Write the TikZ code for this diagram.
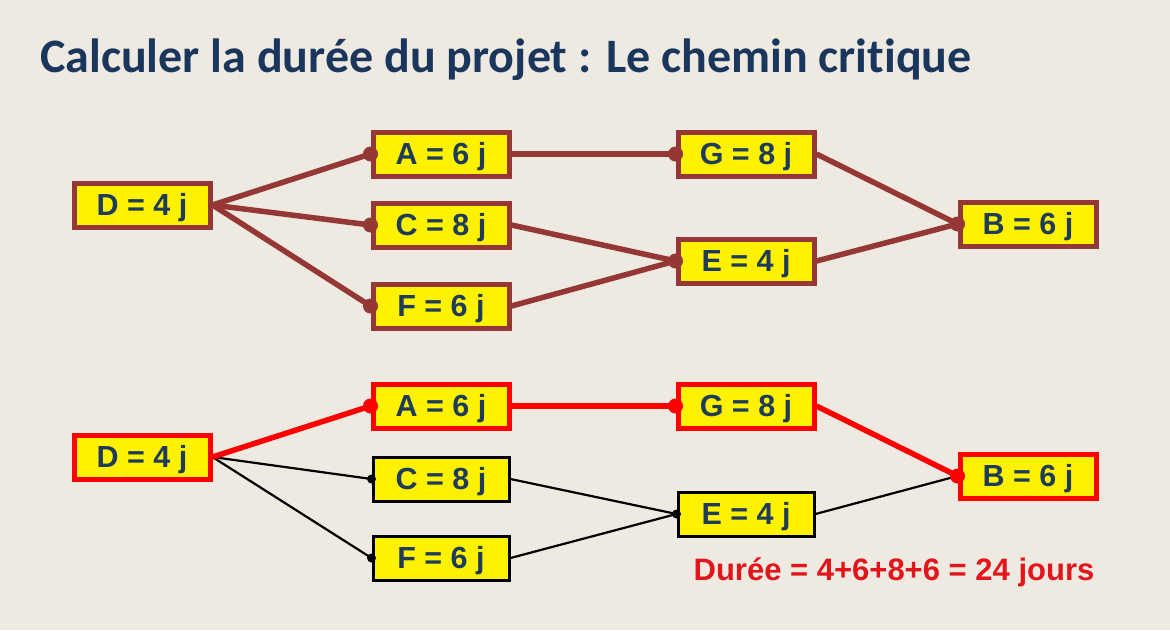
\documentclass[tikz,border=0pt]{standalone}
\usepackage{fontspec}
\setmainfont{Liberation Sans}
\newfontfamily\titlefont[Ligatures=NoCommon]{Carlito}
\usetikzlibrary{backgrounds}
\definecolor{bg}{HTML}{EEEAE2}
\definecolor{brn}{HTML}{953735}
\definecolor{navy}{HTML}{1B365D}
\definecolor{txt}{HTML}{1F3B5A}
\definecolor{crit}{HTML}{FF0000}
\definecolor{redtxt}{HTML}{E3151B}
\begin{document}
\begin{tikzpicture}[x=1pt,y=-1pt,
  task/.style={draw, fill=yellow, minimum width=136pt, minimum height=44pt, inner sep=0pt,
    text height=21.8pt, text depth=0pt,
    font=\fontsize{30.5}{30.5}\selectfont\bfseries, text=txt},
  tbox/.style={task, draw=brn, line width=5pt},
  rbox/.style={task, draw=crit, line width=5pt},
  kbox/.style={task, draw=black, line width=3pt},
  tline/.style={draw=brn, line width=5.5pt},
  rline/.style={draw=crit, line width=5.5pt},
  kline/.style={draw=black, line width=2.2pt},
  tdot/.style={fill=brn},
  rdot/.style={fill=crit},
  kdot/.style={fill=black}
]
\begin{scope}[on background layer]
\fill[bg] (0,0) rectangle (1170,630);
\end{scope}
\useasboundingbox (0,0) rectangle (1170,630);

\node[anchor=base west, text=navy, font=\titlefont\fontsize{48}{48}\selectfont\bfseries, inner sep=0pt]
  (title) at (40,72) {Calculer la durée du projet : Le chemin critique};

% top network
\node[tbox] (D1) at (142,205) {D = 4 j};
\node[tbox] (A1) at (441,154) {A = 6 j};
\node[tbox] (C1) at (441,225) {C = 8 j};
\node[tbox] (F1) at (441,306) {F = 6 j};
\node[tbox] (G1) at (746,154) {G = 8 j};
\node[tbox] (E1) at (746,261) {E = 4 j};
\node[tbox] (B1) at (1028,224) {B = 6 j};

% bottom network
\node[rbox] (D2) at (142,457) {D = 4 j};
\node[rbox] (A2) at (441,406) {A = 6 j};
\node[kbox] (C2) at (441,479) {C = 8 j};
\node[kbox] (F2) at (441,558) {F = 6 j};
\node[rbox] (G2) at (746,406) {G = 8 j};
\node[kbox] (E2) at (746,514) {E = 4 j};
\node[rbox] (B2) at (1028,476) {B = 6 j};

\node[text=redtxt, font=\fontsize{31}{31}\selectfont\bfseries, inner sep=0pt]
  (dur) at (894,572) {Durée = 4+6+8+6 = 24 jours};

\begin{scope}[on background layer]
\draw[tline] (D1.east) -- (A1.west);
\draw[tline] (D1.east) -- (C1.west);
\draw[tline] (D1.east) -- (F1.west);
\draw[tline] (A1.east) -- (G1.west);
\draw[tline] (C1.east) -- (E1.west);
\draw[tline] (F1.east) -- (E1.west);
\draw[tline] (G1.east) -- (B1.west);
\draw[tline] (E1.east) -- (B1.west);

\draw[kline] (D2.east) -- (C2.west);
\draw[kline] (D2.east) -- (F2.west);
\draw[kline] (C2.east) -- (E2.west);
\draw[kline] (F2.east) -- (E2.west);
\draw[kline] (E2.east) -- (B2.west);
\draw[rline] (D2.east) -- (A2.west);
\draw[rline] (A2.east) -- (G2.west);
\draw[rline] (G2.east) -- (B2.west);
\end{scope}

% dots
\fill[tdot] (A1.west) circle (7.5);
\fill[tdot] (C1.west) circle (7.5);
\fill[tdot] (F1.west) circle (7.5);
\fill[tdot] (G1.west) circle (7.5);
\fill[tdot] (E1.west) circle (7.5);
\fill[tdot] (B1.west) circle (7.5);

\fill[rdot] (A2.west) circle (7.5);
\fill[kdot] (C2.west) circle (4.5);
\fill[kdot] (F2.west) circle (4.5);
\fill[rdot] (G2.west) circle (7.5);
\fill[kdot] (E2.west) circle (4.5);
\fill[rdot] (B2.west) circle (7.5);
\end{tikzpicture}
\end{document}
